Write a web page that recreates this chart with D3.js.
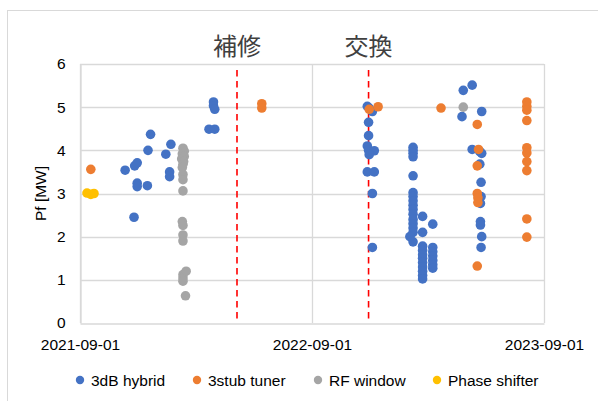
<!DOCTYPE html>
<html>
<head>
<meta charset="utf-8">
<script src="https://cdn.jsdelivr.net/npm/d3@7/dist/d3.min.js"></script>
<style>
  html, body { margin: 0; padding: 0; background: #fff; }
  svg { display: block; }
</style>
</head>
<body>
<svg id="chart" width="598" height="401"></svg>
<script>
// ---- data ----
const xTickLabels = ["2021-09-01", "2022-09-01", "2023-09-01"];
const yTicks = [0, 1, 2, 3, 4, 5, 6];
const seriesNames = ["3dB hybrid", "3stub tuner", "RF window", "Phase shifter"];
const seriesColors = ["#4472C4", "#ED7D31", "#A5A5A5", "#FFC000"];

const eventDates = ["2022-05-06", "2022-11-29"];
const eventLabels = ["補修", "交換"];

const hybridDates = [
  "2021-11-11","2021-11-25","2021-11-26","2021-11-30","2021-11-30","2021-11-30",
  "2021-12-16","2021-12-17","2021-12-21","2022-01-14","2022-01-22","2022-01-20","2022-01-20",
  "2022-03-23","2022-04-01","2022-03-30","2022-03-30","2022-04-01",
  "2022-11-27","2022-11-30","2022-12-05","2022-11-29","2022-11-29","2022-11-27","2022-11-29",
  "2022-12-08","2022-11-30","2022-11-27","2022-12-08","2022-12-05","2022-12-05",
  "2023-02-07","2023-02-07","2023-02-07","2023-02-07","2023-02-07","2023-02-07","2023-02-07",
  "2023-02-07","2023-02-07","2023-02-07","2023-02-07","2023-02-07","2023-02-07","2023-02-07",
  "2023-02-07","2023-02-07","2023-02-02",
  "2023-02-22","2023-02-22","2023-02-22","2023-02-22","2023-02-22","2023-02-22","2023-02-22",
  "2023-02-22","2023-02-22","2023-02-22","2023-02-22",
  "2023-03-10","2023-03-10","2023-03-10","2023-03-10","2023-03-10","2023-03-10","2023-03-10",
  "2023-04-27","2023-05-11","2023-04-25","2023-05-26","2023-05-11","2023-05-23","2023-05-26",
  "2023-05-23","2023-05-25","2023-05-25","2023-05-24","2023-05-24","2023-05-24","2023-05-26","2023-05-25"
];
const hybridValues = [
  3.54, 2.45, 3.64, 3.71, 3.24, 3.16,
  3.18, 4.00, 4.37, 3.91, 4.14, 3.50, 3.39,
  4.49, 4.49, 5.12, 5.03, 4.95,
  5.02, 4.98, 4.90, 4.65, 4.34, 4.10, 4.00,
  3.99, 3.90, 3.50, 3.50, 3.00, 1.75,
  4.07, 4.00, 3.93, 3.85, 3.41, 3.02, 2.93,
  2.83, 2.73, 2.63, 2.52, 2.40, 2.30, 2.20,
  2.10, 1.88, 2.00,
  2.47, 2.10, 1.78, 1.68, 1.58, 1.50, 1.40,
  1.30, 1.20, 1.10, 1.02,
  2.29, 1.75, 1.65, 1.55, 1.45, 1.35, 1.27,
  5.39, 5.51, 4.78, 4.90, 4.02, 3.97, 3.93,
  3.68, 3.26, 2.93, 2.77, 2.35, 2.27, 2.00, 1.75
];

const tunerDates = [
  "2021-09-18","2022-06-14","2022-06-14","2022-12-14","2022-11-30","2023-03-23",
  "2023-05-19","2023-05-21","2023-05-19","2023-05-19","2023-05-20","2023-05-20","2023-05-19",
  "2023-08-05","2023-08-05","2023-08-05","2023-08-05","2023-08-05","2023-08-05","2023-08-05",
  "2023-08-05","2023-08-05","2023-08-05"
];
const tunerValues = [
  3.56, 5.08, 4.98, 5.01, 4.95, 4.98,
  4.60, 4.02, 3.64, 3.00, 2.90, 2.79, 1.32,
  5.12, 5.02, 4.93, 4.69, 4.06, 3.94, 3.74,
  3.53, 2.41, 1.99
];

const windowDates = [
  "2022-02-10","2022-02-12","2022-02-09","2022-02-12","2022-02-08","2022-02-11","2022-02-10","2022-02-09",
  "2022-02-10","2022-02-10","2022-02-10","2022-02-09","2022-02-10","2022-02-10","2022-02-10",
  "2022-02-10","2022-02-10","2022-02-10","2022-02-15","2022-02-14",
  "2023-04-27"
];
const windowValues = [
  4.05, 3.98, 3.92, 3.86, 3.80, 3.74, 3.68, 3.60,
  3.44, 3.32, 3.06, 2.35, 2.26, 2.04, 1.90,
  1.12, 1.04, 0.97, 1.20, 0.63,
  5.00
];

const shifterDates = ["2021-09-12", "2021-09-18", "2021-09-23"];
const shifterValues = [3.01, 2.98, 3.00];

// ---- layout ----
const svg = d3.select("#chart");
const W = 598, H = 401;
const plot = { left: 80, right: 544, top: 64, bottom: 323 };
const parse = d3.utcParse("%Y-%m-%d");
const fontLatin = "'Liberation Sans', Arial, sans-serif";
const fontCJK = "'Noto Sans CJK JP', sans-serif";
const textColor = "#595959";
const gridColor = "#D9D9D9";

const x = d3.scaleUtc()
  .domain([parse(xTickLabels[0]), parse(xTickLabels[2])])
  .range([plot.left, plot.right]);
const y = d3.scaleLinear().domain([0, 6]).range([plot.bottom, plot.top]);

// outer chart border
svg.append("rect")
  .attr("x", 7.5).attr("y", 10.5).attr("width", W + 10).attr("height", H + 10)
  .attr("fill", "none").attr("stroke", gridColor).attr("stroke-width", 1);

// horizontal gridlines
svg.append("g")
  .selectAll("line").data(yTicks.filter(d => d > 0)).join("line")
  .attr("x1", plot.left).attr("x2", plot.right)
  .attr("y1", d => Math.round(y(d)) + 0.5).attr("y2", d => Math.round(y(d)) + 0.5)
  .attr("stroke", gridColor).attr("stroke-width", 1.3);

// vertical gridlines at x ticks
svg.append("g")
  .selectAll("line").data(xTickLabels.map(parse)).join("line")
  .attr("x1", d => Math.round(x(d)) + 0.5).attr("x2", d => Math.round(x(d)) + 0.5)
  .attr("y1", plot.top).attr("y2", plot.bottom)
  .attr("stroke", gridColor).attr("stroke-width", 1.3);

// x axis
const xAxis = d3.axisBottom(x)
  .tickValues(xTickLabels.map(parse))
  .tickFormat(d3.utcFormat("%Y-%m-%d"))
  .tickSize(0).tickPadding(15);
const gx = svg.append("g")
  .attr("transform", `translate(0,${Math.round(y(0)) + 0.5})`)
  .call(xAxis);
gx.select(".domain").attr("stroke", gridColor).attr("stroke-width", 1.3);
gx.selectAll("text")
  .attr("font-family", fontLatin).attr("font-size", "15.5px").attr("fill", "#000");

// y axis
const yAxis = d3.axisLeft(y).tickValues(yTicks).tickFormat(d3.format("d"))
  .tickSize(0).tickPadding(15);
const gy = svg.append("g")
  .attr("transform", `translate(${plot.left + 0.5},0)`)
  .call(yAxis);
gy.select(".domain").attr("stroke", gridColor).attr("stroke-width", 1.3);
gy.selectAll("text")
  .attr("font-family", fontLatin).attr("font-size", "15.5px").attr("fill", "#000");

// y-axis title
svg.append("text")
  .attr("transform", `translate(46,${(plot.top + plot.bottom) / 2}) rotate(-90)`)
  .attr("text-anchor", "middle")
  .attr("font-family", fontLatin).attr("font-size", "15.5px").attr("fill", "#000")
  .text("Pf [MW]");

// event lines
eventDates.forEach((d, i) => {
  const xv = x(parse(d));
  svg.append("line")
    .attr("x1", xv).attr("x2", xv)
    .attr("y1", 70).attr("y2", plot.bottom)
    .attr("stroke", "#FF0000").attr("stroke-width", 1.6)
    .attr("stroke-dasharray", "6.5,4.5");
  svg.append("text")
    .attr("x", xv).attr("y", 55)
    .attr("text-anchor", "middle")
    .attr("font-family", fontCJK).attr("font-size", "24px").attr("fill", "#404040")
    .text(eventLabels[i]);
});

// points
const allSeries = [
  [hybridDates, hybridValues],
  [tunerDates, tunerValues],
  [windowDates, windowValues],
  [shifterDates, shifterValues]
];
allSeries.forEach(([dates, vals], si) => {
  const pts = dates.map((d, i) => ({ d: parse(d), v: vals[i] }));
  svg.append("g")
    .selectAll("circle").data(pts).join("circle")
    .attr("cx", p => x(p.d)).attr("cy", p => y(p.v))
    .attr("r", 4.8)
    .attr("fill", seriesColors[si]);
});

// legend
const legendX = [80, 197, 318, 437];
const lg = svg.append("g");
seriesNames.forEach((name, i) => {
  lg.append("circle")
    .attr("cx", legendX[i]).attr("cy", 380).attr("r", 4.2)
    .attr("fill", seriesColors[i]);
  lg.append("text")
    .attr("x", legendX[i] + 11).attr("y", 385.5)
    .attr("font-family", fontLatin).attr("font-size", "15.5px").attr("fill", "#000")
    .text(name);
});
</script>
</body>
</html>
